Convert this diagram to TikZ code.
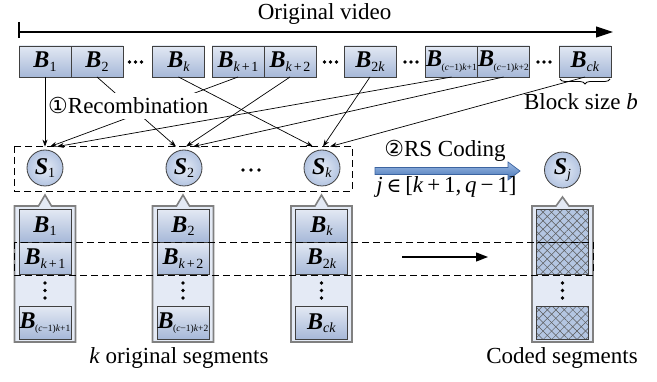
\documentclass[tikz,border=0pt]{standalone}
\usepackage{fontspec}
\setmainfont{Liberation Serif}
\newfontfamily\symfont{DejaVu Sans}
\newfontfamily\symserif{DejaVu Serif}
\usetikzlibrary{arrows.meta,calc,decorations.pathreplacing,patterns.meta}

\definecolor{blkTop}{HTML}{E2E8F3}
\definecolor{blkBot}{HTML}{A6B8D8}
\definecolor{colFill}{HTML}{E4EAF5}
\definecolor{colEdge}{HTML}{808080}
\definecolor{edgeDark}{HTML}{404040}
\definecolor{circIn}{HTML}{E6ECF6}
\definecolor{circOut}{HTML}{B3C4E1}
\definecolor{arrTop}{HTML}{9DBBE6}
\definecolor{arrBot}{HTML}{4775B5}
\definecolor{arrEdge}{HTML}{3C64A0}
\definecolor{hatchFill}{HTML}{B4C6E2}

% block label: bold italic B with a subscript
\newcommand{\Bl}[2][14]{{\bfseries\itshape B}\raisebox{-0.32ex}{\fontsize{#1}{#1}\selectfont #2}}
% long subscripts are set tighter so they stay inside the block
\newcommand{\Blong}[1]{\hspace*{-1.5pt}{\bfseries\itshape B}\hspace{-0.5pt}\raisebox{-0.32ex}{\fontsize{9.5}{9.5}\selectfont #1}\hspace*{-1.5pt}}
\newcommand{\Sl}[1]{{\bfseries\itshape S}\raisebox{-0.32ex}{\fontsize{14}{14}\selectfont #1}}
\newcommand{\ik}{\textit{k}}
\newcommand{\pl}{\hspace{0.12em}+\hspace{0.12em}}

\tikzset{
  x=1pt, y=-1pt,
  txt/.style={font=\fontsize{23}{26}\selectfont, inner sep=0pt},
  blk/.style={draw=edgeDark, line width=0.8pt, top color=blkTop, bottom color=blkBot,
    minimum width=52pt, minimum height=31pt, inner sep=0pt, outer sep=0pt,
    font=\fontsize{24}{24}\selectfont},
  seg/.style={blk, minimum width=52pt, minimum height=32.5pt},
  hseg/.style={draw=edgeDark, line width=0.8pt, minimum width=52pt, minimum height=32.5pt,
    inner sep=0pt, outer sep=0pt,
    preaction={fill=hatchFill},
    preaction={pattern={Lines[angle=45,distance=6pt,line width=0.5pt]}, pattern color=black!65},
    pattern={Lines[angle=-45,distance=6pt,line width=0.5pt]}, pattern color=black!65},
  snode/.style={circle, draw=edgeDark, line width=0.8pt, inner color=circIn, outer color=circOut,
    minimum size=36pt, inner sep=0pt, font=\fontsize{24}{24}\selectfont},
  conn/.style={draw=black, line width=0.7pt, -{Stealth[length=7pt,width=5pt]}},
  dashbox/.style={draw=black, line width=0.9pt, dash pattern=on 7pt off 4pt},
  colbox/.style={draw=colEdge, line width=1.6pt, fill=colFill},
}

\begin{document}
\begin{tikzpicture}
\useasboundingbox (0,0) rectangle (657,382);

% ---- timeline of the original video ----
\node[txt, anchor=base] (title) at (324.5,20) {Original video};
\coordinate (tl) at (19,32);
\coordinate (tr) at (613,32);
\draw[line width=1.1pt] (19,22) -- (19,38);
\draw[line width=1.1pt, -{Triangle[length=17pt,width=11pt]}] (tl) -- (tr);

% ---- blocks of the video ----
\node[blk] (b1)  at (45,61.5)    {\Bl{1}};
\node[blk] (b2)  at (97,61.5)    {\Bl{2}};
\node[blk] (bk)  at (178.5,61.5) {\Bl{\ik}};
\node[blk] (bk1) at (238,61.5)   {\Bl{\ik\pl1}};
\node[blk] (bk2) at (290,61.5)   {\Bl{\ik\pl2}};
\node[blk] (b2k) at (370,61.5)   {\Bl{2\ik}};
\node[blk] (bc1) at (451.5,61.5) {\Blong{(\textit{c}−1)\ik+1}};
\node[blk] (bc2) at (503.5,61.5) {\Blong{(\textit{c}−1)\ik+2}};
\node[blk] (bck) at (585,61.5)   {\Bl{\textit{ck}}};

\foreach \cx in {135.5,330.5,411,544}{
  \foreach \d in {-6,0,6}{ \fill (\cx+\d,62) circle (1.9pt); }
}

% block size brace
\draw[line width=0.8pt, decorate, decoration={brace, mirror, amplitude=5pt}]
  ($(bck.south west)+(1,2)$) -- ($(bck.south east)+(-1,2)$);
\node[txt, anchor=base] (bsize) at (581,110) {Block size \textit{b}};

% ---- segments ----
\draw[dashbox] (14,146) rectangle (352,191);
\node[snode] (s1) at (45,168)  {\Sl{1}};
\node[snode] (s2) at (184,168) {\Sl{2}};
\node[snode] (sk) at (322,168) {\Sl{\ik}};
\node[snode] (sj) at (562.5,170) {\Sl{\textit{j}}};
\foreach \d in {-8,0,8}{ \fill (251+\d,170) circle (1.9pt); }

% ---- recombination connectors (two of them pass behind the label) ----
\draw[conn] (b2.south)  -- ($(s2.north)+(-8,-3)$);
\draw[conn] (bk1.south) -- ($(s1.north)+(5,-3)$);
\node[txt, anchor=base west, fill=white, inner xsep=1pt, inner ysep=4.5pt] (recomb) at (47,114)
  {{\symfont\fontsize{22}{22}\selectfont ①}Recombination};
\draw[conn] (b1.south)  -- ($(s1.north)+(0,-3)$);
\draw[conn] (bc1.south) -- ($(s1.north)+(12,-3)$);
\draw[conn] (bk2.south) -- ($(s2.north)+(2,-3)$);
\draw[conn] (bc2.south) -- ($(s2.north)+(9,-3)$);
\draw[conn] (bk.south)  -- ($(sk.north)+(-9,-3)$);
\draw[conn] (b2k.south) -- ($(sk.north)+(1,-3)$);
\draw[conn] (bck.south) -- ($(sk.north)+(8,-3)$);

% ---- RS coding arrow ----
\draw[draw=arrEdge, line width=0.7pt, top color=arrTop, bottom color=arrBot]
  (375,167.5) -- (508,167.5) -- (508,162) -- (520,171) -- (508,180) -- (508,174.5) -- (375,174.5) -- cycle;
\node[txt, anchor=base] (rs) at (445,157)
  {{\symfont\fontsize{22}{22}\selectfont ②}RS Coding};
\node[txt, anchor=base] (jrange) at (446.5,193)
  {\textit{j}\,{\symserif\fontsize{20}{20}\selectfont ∈}\,[\textit{k}\,+\,1,\,\textit{q}\,−\,1]};

% ---- segment columns (callout boxes pointing at their segment) ----
\foreach \cx/\tipy in {45/195, 183/195, 321.5/195, 562.5/197}{
  \draw[colbox] (\cx-30.5,342) -- (\cx-30.5,206) -- (\cx-6.5,206) -- (\cx,\tipy)
     -- (\cx+6.5,206) -- (\cx+30.5,206) -- (\cx+30.5,342) -- cycle;
  \foreach \d in {-7.5,0,7.5}{ \fill (\cx,290.5+\d) circle (1.9pt); }
}

\node[seg] (c1a) at (45,226)   {\Bl{1}};
\node[seg] (c1b) at (45,258.5) {\Bl{\ik\pl1}};
\node[seg] (c1c) at (45,323)   {\Blong{(\textit{c}−1)\ik+1}};

\node[seg] (c2a) at (183,226)   {\Bl{2}};
\node[seg] (c2b) at (183,258.5) {\Bl{\ik\pl2}};
\node[seg] (c2c) at (183,323)   {\Blong{(\textit{c}−1)\ik+2}};

\node[seg] (cka) at (321.5,226)   {\Bl{\ik}};
\node[seg] (ckb) at (321.5,258.5) {\Bl{2\ik}};
\node[seg] (ckc) at (321.5,323)   {\Bl{\textit{ck}}};

\node[hseg] (cja) at (562.5,226)   {};
\node[hseg] (cjb) at (562.5,258.5) {};
\node[hseg] (cjc) at (562.5,323)   {};

% the row of second blocks across all segments
\draw[dashbox] (14,242) rectangle (593,275);
\coordinate (ra) at (402,257);
\coordinate (rb) at (488,257);
\draw[line width=1.3pt, -{Triangle[length=12pt,width=9pt]}] (ra) -- (rb);

% ---- captions ----
\node[txt, anchor=base] (korig) at (179,364) {\textit{k} original segments};
\node[txt, anchor=base] (coded) at (562,364) {Coded segments};
\end{tikzpicture}
\end{document}
